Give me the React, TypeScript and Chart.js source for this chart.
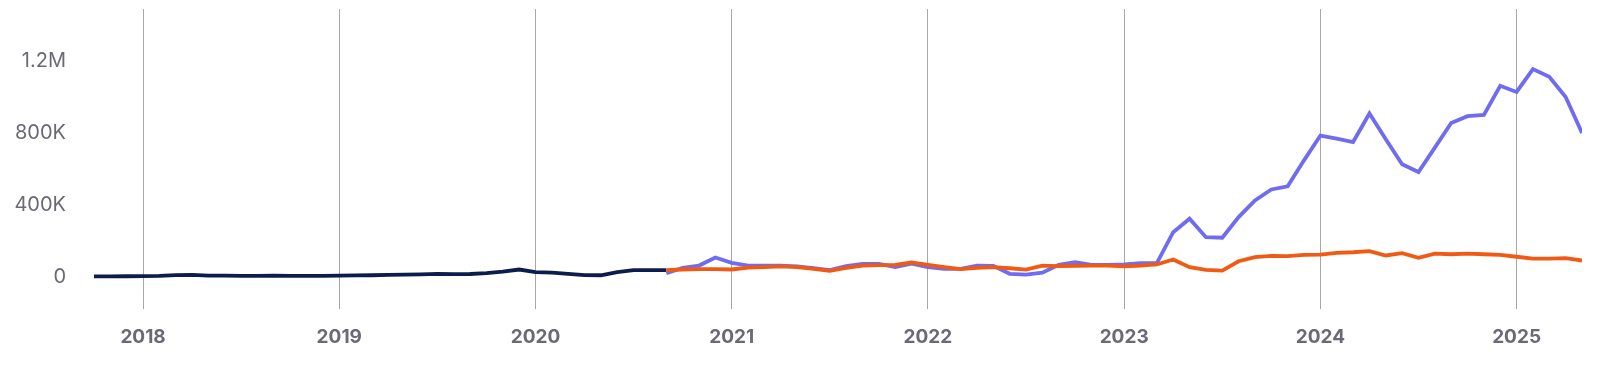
import React, { useEffect, useRef } from "react";
import { Chart, registerables } from "chart.js";

Chart.register(...registerables);

// months counted from Jan 2018 (0 = Jan 2018)
const navyStartMonth = -3; // Oct 2017
const navyValues = [
  1000, 1000, 1500,
  2000, 3000, 8000, 9000, 5000, 5000, 3000, 3000, 5000, 4000, 3000, 4000,
  5000, 6000, 7000, 9000, 10000, 12000, 15000, 13000, 14000, 19000, 27000, 39000,
  24000, 22000, 15000, 8000, 7000, 24000, 36000, 36000, 35000,
];

const seriesStartMonth = 32; // Sep 2020
const purpleValues = [
  18000, 48000, 61000, 106000,
  76000, 61000, 60000, 61000, 56000, 47000, 36000, 58000, 70000, 70000, 53000, 71000,
  52000, 43000, 43000, 61000, 59000, 15000, 10000, 21000, 65000, 80000, 65000, 65000,
  67000, 74000, 74000, 247000, 322000, 219000, 216000, 331000, 424000, 485000, 502000, 647000,
  785000, 768000, 749000, 908000, 764000, 625000, 582000, 718000, 855000, 893000, 900000, 1062000,
  1028000, 1155000, 1112000, 1000000, 800000,
];
const orangeValues = [
  35000, 39000, 41000, 41000,
  39000, 50000, 52000, 56000, 52000, 43000, 31000, 48000, 61000, 63000, 65000, 78000,
  65000, 52000, 41000, 48000, 52000, 46000, 38000, 61000, 58000, 60000, 61000, 61000,
  56000, 61000, 67000, 95000, 52000, 37000, 33000, 85000, 108000, 115000, 114000, 121000,
  122000, 132000, 135000, 141000, 117000, 130000, 104000, 127000, 124000, 127000, 124000, 121000,
  110000, 100000, 100000, 102000, 89000,
];

const yearTickMonths = [0, 12, 24, 36, 48, 60, 72, 84];
const yearTickLabels = ["2018", "2019", "2020", "2021", "2022", "2023", "2024", "2025"];
const yTickValues = [0, 400000, 800000, 1200000];
const yTickLabels = ["0", "400K", "800K", "1.2M"];

const toPoints = (start: number, vals: number[]) =>
  vals.map((v, i) => ({ x: start + i, y: v }));

export default function App() {
  const ref = useRef<HTMLCanvasElement | null>(null);

  useEffect(() => {
    document.body.style.margin = "0";
    const canvas = ref.current;
    if (!canvas) return;
    const chart = new Chart(canvas, {
      type: "line",
      data: {
        datasets: [
          {
            data: toPoints(navyStartMonth, navyValues),
            borderColor: "#0c1c4c",
            borderWidth: 3.8,
            pointRadius: 0,
            order: 2,
          },
          {
            data: toPoints(seriesStartMonth, purpleValues),
            borderColor: "#6f6cf2",
            borderWidth: 3.8,
            pointRadius: 0,
            order: 1,
          },
          {
            data: toPoints(seriesStartMonth, orangeValues),
            borderColor: "#f05a14",
            borderWidth: 3.8,
            pointRadius: 0,
            order: 0,
          },
        ],
      },
      options: {
        animation: false,
        responsive: false,
        maintainAspectRatio: false,
        layout: { padding: { left: 0, right: 15, top: 9, bottom: 0 } },
        plugins: { legend: { display: false }, tooltip: { enabled: false } },
        scales: {
          x: {
            type: "linear",
            min: -3,
            max: 88,
            afterBuildTicks: (s: any) => {
              s.ticks = yearTickMonths.map((v) => ({ value: v }));
            },
            afterFit: (s: any) => {
              s.height = 58;
              s.paddingLeft = 0;
              s.paddingRight = 0;
            },
            grid: { display: true, color: "#a8a8a8", lineWidth: 1, drawTicks: false },
            border: { display: false },
            ticks: {
              autoSkip: false,
              maxRotation: 0,
              padding: 17,
              color: "#6a6a76",
              font: { family: "Inter", size: 19, weight: "bold" },
              callback: (v: any) => {
                const i = yearTickMonths.indexOf(Number(v));
                return i >= 0 ? yearTickLabels[i] : "";
              },
            },
          },
          y: {
            type: "linear",
            min: -181000,
            max: 1490000,
            afterBuildTicks: (s: any) => {
              s.ticks = yTickValues.map((v) => ({ value: v }));
            },
            afterFit: (s: any) => {
              s.width = 94;
              s.paddingTop = 0;
              s.paddingBottom = 0;
            },
            grid: { display: false, drawTicks: false },
            border: { display: false },
            ticks: {
              padding: 28,
              color: "#6a6a76",
              font: { family: "Inter", size: 20, weight: "normal" },
              callback: (v: any) => {
                const i = yTickValues.indexOf(Number(v));
                return i >= 0 ? yTickLabels[i] : "";
              },
            },
          },
        },
      },
    });
    return () => chart.destroy();
  }, []);

  return (
    <div style={{ width: 1597, height: 367 }}>
      <canvas ref={ref} width={1597} height={367} style={{ display: "block" }} />
    </div>
  );
}
